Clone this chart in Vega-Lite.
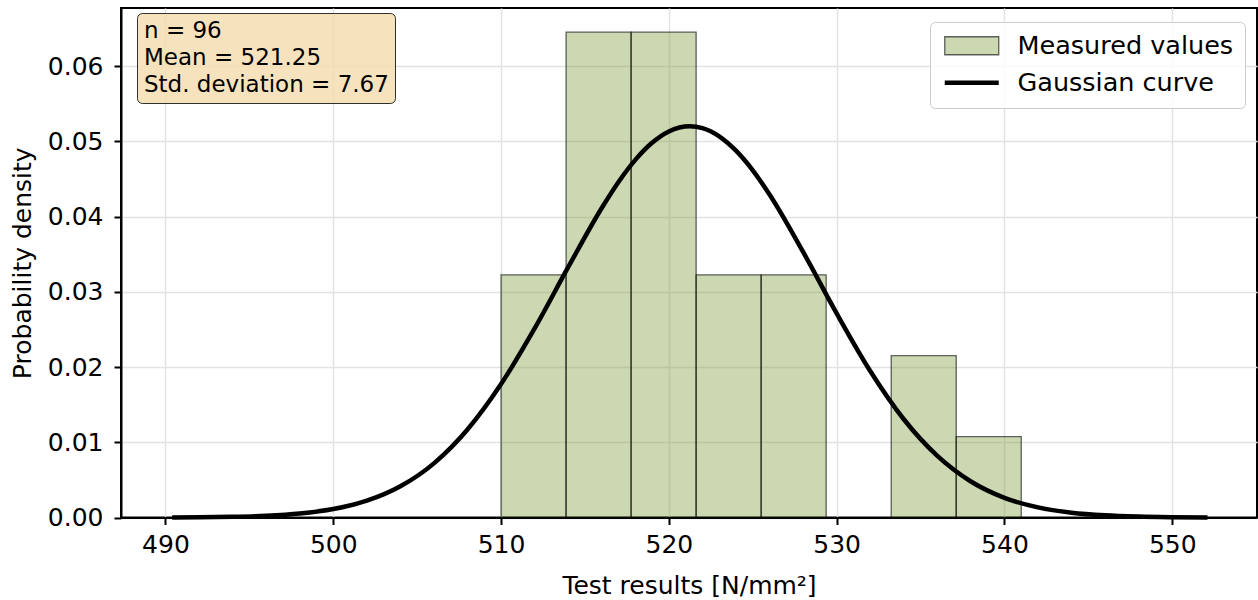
{
  "$schema": "https://vega.github.io/schema/vega-lite/v6.json",
  "width": 1136,
  "height": 509.5,
  "autosize": {"type": "none"},
  "padding": {"left": 121, "top": 8, "right": 1, "bottom": 82.5},
  "background": "white",
  "config": {
    "font": "DejaVu Sans",
    "view": {"stroke": "black", "strokeWidth": 2},
    "axis": {
      "domainColor": "black", "domainWidth": 2,
      "tickColor": "black", "tickWidth": 2, "tickSize": 7,
      "labelFont": "DejaVu Sans", "labelFontSize": 25, "labelColor": "black",
      "titleFont": "DejaVu Sans", "titleFontSize": 25, "titleFontWeight": "normal", "titleColor": "black",
      "gridColor": "#e3e3e3", "gridWidth": 1.5
    }
  },
  "datasets": {
    "bins": [
      {"bin_start": 510.0, "bin_end": 513.875, "density": 0.03226, "series": "Measured values"},
      {"bin_start": 513.875, "bin_end": 517.75, "density": 0.06452, "series": "Measured values"},
      {"bin_start": 517.75, "bin_end": 521.625, "density": 0.06452, "series": "Measured values"},
      {"bin_start": 521.625, "bin_end": 525.5, "density": 0.03226, "series": "Measured values"},
      {"bin_start": 525.5, "bin_end": 529.375, "density": 0.03226, "series": "Measured values"},
      {"bin_start": 533.25, "bin_end": 537.125, "density": 0.02151, "series": "Measured values"},
      {"bin_start": 537.125, "bin_end": 541.0, "density": 0.01075, "series": "Measured values"}
    ],
    "curve": [
      {"x": 490.4, "y": 0.000016, "series": "Gaussian curve"}, {"x": 492, "y": 0.000036, "series": "Gaussian curve"},
      {"x": 494, "y": 0.000094, "series": "Gaussian curve"}, {"x": 496, "y": 0.00023, "series": "Gaussian curve"},
      {"x": 498, "y": 0.000526, "series": "Gaussian curve"}, {"x": 500, "y": 0.00112, "series": "Gaussian curve"},
      {"x": 502, "y": 0.00223, "series": "Gaussian curve"}, {"x": 504, "y": 0.00415, "series": "Gaussian curve"},
      {"x": 506, "y": 0.0072, "series": "Gaussian curve"}, {"x": 508, "y": 0.0117, "series": "Gaussian curve"},
      {"x": 510, "y": 0.01774, "series": "Gaussian curve"}, {"x": 512, "y": 0.02514, "series": "Gaussian curve"},
      {"x": 514, "y": 0.03328, "series": "Gaussian curve"}, {"x": 516, "y": 0.04115, "series": "Gaussian curve"},
      {"x": 517, "y": 0.04461, "series": "Gaussian curve"}, {"x": 518, "y": 0.04755, "series": "Gaussian curve"},
      {"x": 519, "y": 0.04982, "series": "Gaussian curve"}, {"x": 520, "y": 0.05133, "series": "Gaussian curve"},
      {"x": 521.25, "y": 0.05201, "series": "Gaussian curve"}, {"x": 522, "y": 0.05177, "series": "Gaussian curve"},
      {"x": 523, "y": 0.05068, "series": "Gaussian curve"}, {"x": 524, "y": 0.04877, "series": "Gaussian curve"},
      {"x": 525, "y": 0.04616, "series": "Gaussian curve"}, {"x": 526, "y": 0.04294, "series": "Gaussian curve"},
      {"x": 528, "y": 0.03531, "series": "Gaussian curve"}, {"x": 530, "y": 0.02713, "series": "Gaussian curve"},
      {"x": 532, "y": 0.01948, "series": "Gaussian curve"}, {"x": 534, "y": 0.01306, "series": "Gaussian curve"},
      {"x": 536, "y": 0.00819, "series": "Gaussian curve"}, {"x": 538, "y": 0.00479, "series": "Gaussian curve"},
      {"x": 540, "y": 0.00262, "series": "Gaussian curve"}, {"x": 542, "y": 0.00134, "series": "Gaussian curve"},
      {"x": 544, "y": 0.00064, "series": "Gaussian curve"}, {"x": 546, "y": 0.000285, "series": "Gaussian curve"},
      {"x": 548, "y": 0.000119, "series": "Gaussian curve"}, {"x": 550, "y": 0.000046, "series": "Gaussian curve"},
      {"x": 552.1, "y": 0.000016, "series": "Gaussian curve"}
    ],
    "stats": [
      {"stat": "n = 96"},
      {"stat": "Mean = 521.25"},
      {"stat": "Std. deviation = 7.67"}
    ]
  },
  "layer": [
    {
      "data": {"name": "bins"},
      "mark": {"type": "bar", "stroke": "rgba(0,0,0,0.6)", "strokeWidth": 1.3},
      "encoding": {
        "x": {
          "field": "bin_start", "type": "quantitative",
          "title": "Test results [N/mm²]",
          "scale": {"domain": [487.35, 555.05], "nice": false, "zero": false},
          "axis": {"values": [490, 500, 510, 520, 530, 540, 550], "labelPadding": 8, "titlePadding": 16}
        },
        "x2": {"field": "bin_end"},
        "y": {
          "field": "density", "type": "quantitative",
          "title": "Probability density",
          "scale": {"domain": [0, 0.06774], "nice": false},
          "axis": {"values": [0, 0.01, 0.02, 0.03, 0.04, 0.05, 0.06], "format": ".2f", "labelPadding": 11, "titlePadding": 12}
        },
        "y2": {"datum": 0},
        "fill": {
          "field": "series", "type": "nominal",
          "scale": {"domain": ["Measured values"], "range": ["rgba(107,142,35,0.35)"]},
          "legend": {
            "title": null, "orient": "none", "legendX": 809, "legendY": 14, "padding": 11, "zindex": 3,
            "labelFontSize": 25.5, "labelColor": "transparent", "labelLimit": 400, "labelFont": "DejaVu Sans",
            "symbolSize": 324, "symbolType": "M-1,-1H5V1H-1Z", "labelOffset": 51, "rowPadding": 10,
            "symbolStrokeWidth": 1.3, "symbolStrokeColor": "rgba(0,0,0,0.6)"
          }
        }
      }
    },
    {
      "data": {"name": "curve"},
      "mark": {"type": "line", "strokeWidth": 4.5, "interpolate": "monotone"},
      "encoding": {
        "x": {"field": "x", "type": "quantitative", "title": "Test results [N/mm²]"},
        "y": {"field": "y", "type": "quantitative", "title": "Probability density"},
        "stroke": {
          "field": "series", "type": "nominal",
          "scale": {"domain": ["Measured values", "Gaussian curve"], "range": ["transparent", "black"]},
          "legend": {
            "title": null, "orient": "none", "legendX": 809, "legendY": 14, "padding": 11, "zindex": 1,
            "fillColor": "rgba(255,255,255,0.8)", "strokeColor": "#cccccc", "cornerRadius": 5,
            "labelFontSize": 25.5, "labelColor": "black", "labelLimit": 400, "labelFont": "DejaVu Sans",
            "symbolSize": 324, "symbolType": "M-1,0H5", "symbolStrokeWidth": 4.5,
            "labelOffset": 51, "rowPadding": 10
          }
        }
      }
    },
    {
      "data": {"name": "stats"},
      "mark": {"type": "point", "opacity": 0},
      "encoding": {
        "shape": {
          "field": "stat", "type": "nominal",
          "scale": {"domain": ["n = 96", "Mean = 521.25", "Std. deviation = 7.67"]},
          "legend": {
            "title": null, "orient": "none", "legendX": 16, "legendY": 5, "padding": 6,
            "fillColor": "rgba(245,222,179,0.85)", "strokeColor": "rgba(0,0,0,0.8)", "cornerRadius": 5,
            "labelFontSize": 23, "labelColor": "black", "labelLimit": 400, "labelFont": "DejaVu Sans",
            "symbolSize": 0, "symbolOpacity": 0, "symbolStrokeWidth": 0, "labelOffset": -22, "rowPadding": 3,
            "encode": {"legend": {"strokeWidth": {"value": 2}}}
          }
        }
      }
    }
  ]
}
